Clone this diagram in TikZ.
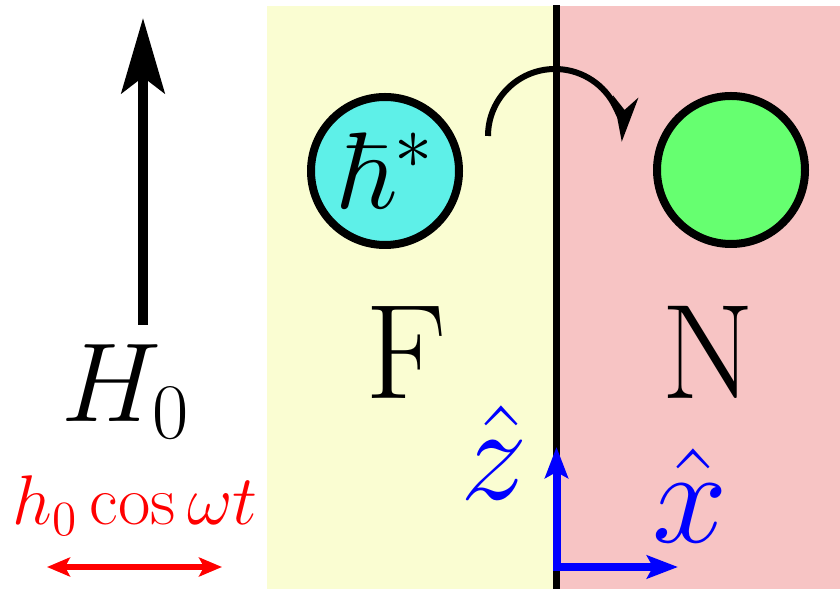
\RequirePackage{fix-cm}
\documentclass[tikz,border=0pt]{standalone}
\usepackage{amsmath}
\usepackage{amssymb}
\usetikzlibrary{arrows.meta}
\definecolor{ferro}{RGB}{250,253,210}
\definecolor{normal}{RGB}{247,196,196}
\definecolor{magnon}{RGB}{94,240,232}
\definecolor{spinball}{RGB}{102,255,112}

\begin{document}
\begin{tikzpicture}[
    ball/.style={circle, draw=black, line width=0.08cm, minimum size=1.48cm, inner sep=0pt},
    bigtxt/.style={anchor=base, font=\fontsize{32}{37}\selectfont},
    layertxt/.style={anchor=base, font=\fontsize{38.4}{44}\selectfont},
    axtxt/.style={anchor=base, text=blue, font=\fontsize{38.4}{44}\selectfont},
    axis/.style={blue, line width=0.08cm, line join=miter, {Stealth[length=0.31cm, width=0.23cm, inset=0.06cm]}-{Stealth[length=0.31cm, width=0.23cm, inset=0.06cm]}}
  ]
  \useasboundingbox (0,0) rectangle (8.4,5.89);
  % the two layers and the interface
  \fill[ferro] (2.67,0) rectangle (5.565,5.83);
  \fill[normal] (5.565,0) rectangle (8.4,5.83);
  \draw[line width=0.07cm] (5.565,0) -- (5.565,5.84);

  % static and driving fields
  \coordinate (Hbot) at (1.43,2.64);
  \coordinate (Htop) at (1.43,5.71);
  \draw[line width=0.1cm, -{Stealth[length=0.75cm, width=0.43cm, inset=0.16cm]}] (Hbot) -- (Htop);
  \node[bigtxt] (H0) at (1.26,1.67) {\(H_0\)};
  \node[anchor=base, text=red, font=\fontsize{20}{24}\selectfont] (drive) at (1.35,0.64) {\(h_0\cos\omega t\)};
  \coordinate (hl) at (0.47,0.22);
  \coordinate (hr) at (2.22,0.22);
  \draw[red, line width=0.055cm, {Stealth[length=0.23cm, width=0.19cm, inset=0.05cm]}-{Stealth[length=0.23cm, width=0.19cm, inset=0.05cm]}] (hl) -- (hr);

  % magnon and spin
  \node[ball, fill=magnon, font=\fontsize{31}{36}\selectfont] (mag) at (3.85,4.18) {\(\hbar^*\)};
  \node[ball, fill=spinball] (spin) at (7.31,4.19) {};
  \coordinate (pump) at (4.88,4.53);
  \draw[line width=0.06cm, -{Stealth[length=0.45cm, width=0.25cm, inset=0.13cm]}] (pump) arc[start angle=180, end angle=-5, radius=0.67];

  \node[layertxt] (F) at (4.06,1.9) {F};
  \node[layertxt] (N) at (7.08,1.9) {N};

  % axes
  \coordinate (O) at (5.565,0.22);
  \coordinate (zend) at (5.565,1.42);
  \coordinate (xend) at (6.78,0.22);
  \draw[axis] (zend) -- (O) -- (xend);
  \node[axtxt] (zhat) at (4.94,0.89) {\(\hat{z}\)};
  \node[axtxt] (xhat) at (6.90,0.46) {\(\hat{x}\)};
\end{tikzpicture}
\end{document}
